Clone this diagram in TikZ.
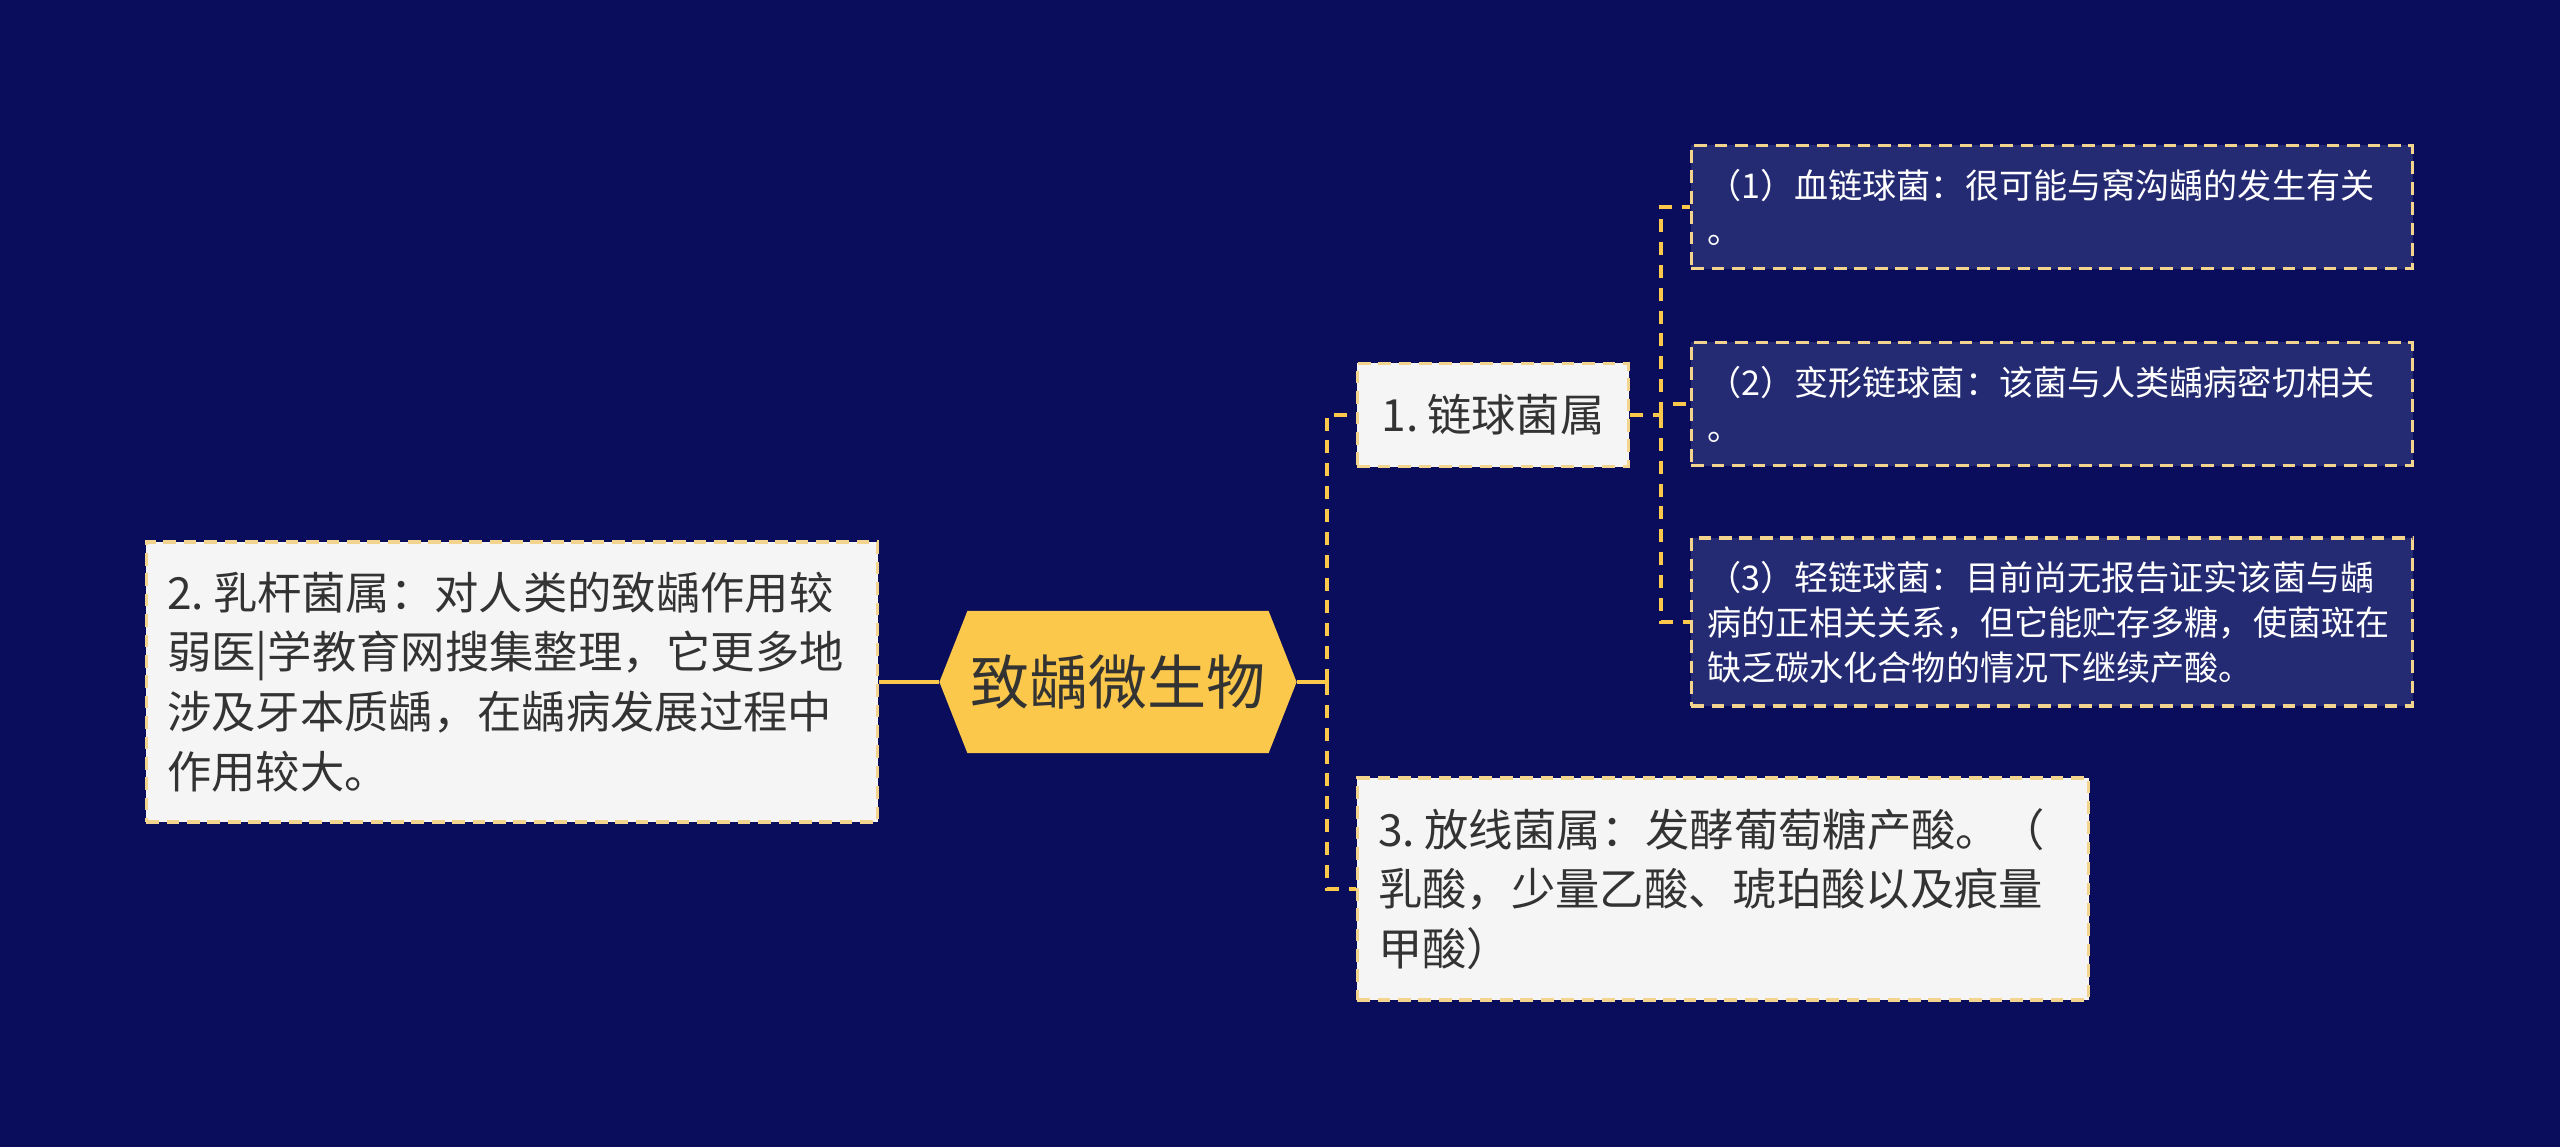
\documentclass[tikz,border=0pt]{standalone}
\usepackage{fontspec}
\setmainfont{Noto Sans CJK SC}
\usetikzlibrary{shapes.symbols}
\definecolor{bgnavy}{HTML}{0A0D5B}
\definecolor{leafnavy}{HTML}{252B73}
\definecolor{rootyellow}{HTML}{FCC84B}
\definecolor{dashyellow}{HTML}{F2D48E}
\definecolor{paper}{HTML}{F5F5F5}
\definecolor{ink}{HTML}{333333}

\begin{document}
\begin{tikzpicture}[x=0.01cm, y=-0.01cm,
    rootbox/.style={shape=signal, signal to=west and east, signal pointer angle=137, fill=rootyellow, text=ink, minimum width=3.57cm, minimum height=1.42cm, inner sep=0pt, font=\fontsize{16.8pt}{20pt}\selectfont},
    topic/.style={rectangle, draw=dashyellow, fill=paper, text=ink, line width=1pt, dash pattern=on 3.6pt off 2.2pt, font=\fontsize{12.6pt}{17pt}\selectfont},
    leaf/.style={rectangle, draw=dashyellow, fill=leafnavy, text=white, line width=1pt, dash pattern=on 3.6pt off 2.2pt, text width=6.89cm, inner xsep=0.16cm, minimum width=7.21cm, align=left, font=\fontsize{9.7pt}{12.8pt}\selectfont},
    link/.style={draw=rootyellow, line width=1.1pt},
    dlink/.style={link, dash pattern=on 3.7pt off 2.8pt}
]
    % background
    \fill[bgnavy] (0,0) rectangle (2560,1147);

    % root
    \node[rootbox] (root) at (1118, 682) {致龋微生物};

    % left topic
    \node[topic, text width=6.89cm, inner xsep=0.21cm, minimum height=2.8cm, align=left] (lacto) at (512, 682) {2.\hspace{0.2em}乳杆菌属：对人类的致龋作用较\\弱医|学教育网搜集整理，它更多地\\涉及牙本质龋，在龋病发展过程中\\作用较大。};

    % right topics
    \node[topic, minimum width=2.71cm, minimum height=1.03cm] (strep) at (1493, 415) {1.\hspace{0.2em}链球菌属};
    \node[topic, text width=6.89cm, inner xsep=0.21cm, minimum height=2.22cm, align=left] (actino) at (1723, 889) {3.\hspace{0.2em}放线菌属：发酵葡萄糖产酸。（\\乳酸，少量乙酸、琥珀酸以及痕量\\甲酸）};

    % streptococcus leaves
    \node[leaf, minimum height=1.23cm] (sanguis) at (2052, 207) {（1）血链球菌：很可能与窝沟龋的发生有关\\。};
    \node[leaf, minimum height=1.23cm] (mutans) at (2052, 404) {（2）变形链球菌：该菌与人类龋病密切相关\\。};
    \node[leaf, minimum height=1.68cm] (salivarius) at (2052, 622) {（3）轻链球菌：目前尚无报告证实该菌与龋\\病的正相关关系，但它能贮存多糖，使菌斑在\\缺乏碳水化合物的情况下继续产酸。};

    % connectors
    \coordinate (trunk) at (1327, 682);
    \coordinate (branch) at (1661, 415);
    \draw[link] (lacto.east) -- (root.west);
    \draw[link] (root.east) -- (trunk);
    \draw[dlink] (trunk) |- (strep.west);
    \draw[dlink] (trunk) |- (actino.west);
    \draw[dlink] (strep.east) -- (branch);
    \draw[dlink] (branch) |- (sanguis.west);
    \draw[dlink] (branch) |- (mutans.west);
    \draw[dlink] (branch) |- (salivarius.west);
\end{tikzpicture}
\end{document}
